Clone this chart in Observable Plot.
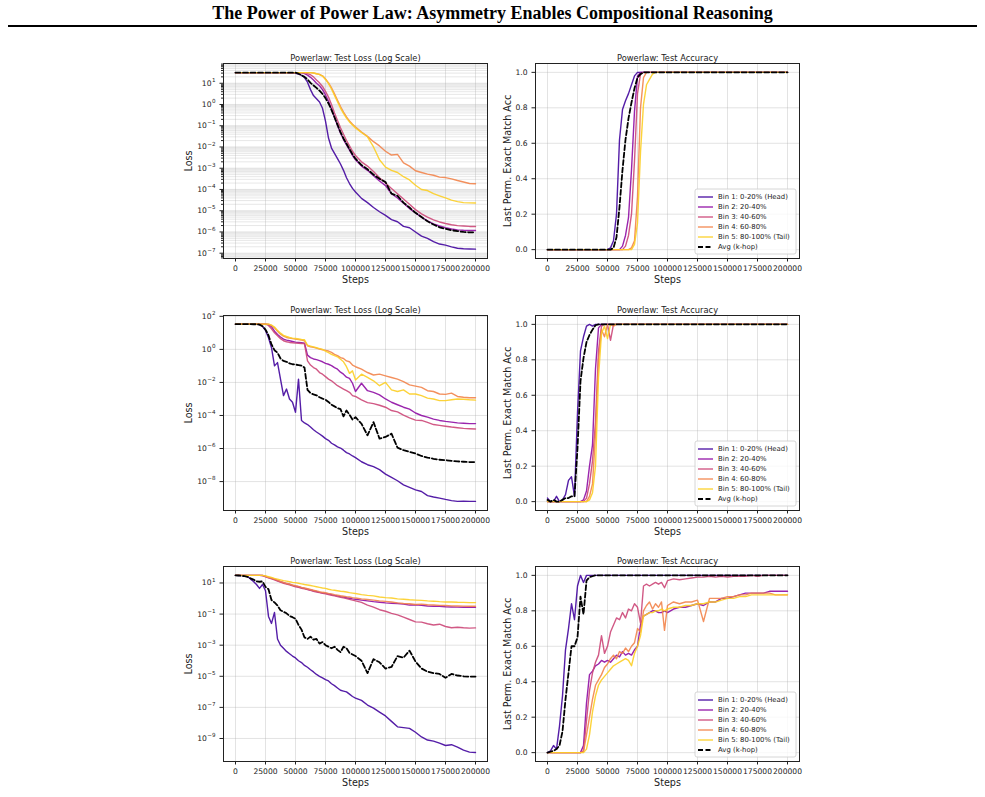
<!DOCTYPE html>
<html>
<head>
<meta charset="utf-8">
<script src="https://cdn.jsdelivr.net/npm/d3@7"></script>
<script src="https://cdn.jsdelivr.net/npm/@observablehq/plot@0.6"></script>
<style>
  body { margin: 0; background: #fff; }
  #page { position: relative; width: 985px; height: 797px; overflow: hidden; font-family: "DejaVu Sans", sans-serif; }
  #title { position: absolute; left: 0; top: 3px; width: 985px; text-align: center;
           font-family: "Liberation Serif", "Times New Roman", serif; font-weight: bold; font-size: 18px; color: #000; }
  #rule { position: absolute; left: 8px; top: 25px; width: 969px; height: 2px; background: #000; }
  .panel { position: absolute; }
</style>
</head>
<body>
<div id="page">
  <div id="title">The Power of Power Law: Asymmetry Enables Compositional Reasoning</div>
  <div id="rule"></div>
</div>
<script>
// Training steps at which each run was evaluated
const steps = [0,2500,5000,7500,10000,12500,15000,17500,20000,22500,
  25000,27500,30000,32500,35000,37500,40000,42500,45000,47500,
  50000,52500,55000,57500,60000,62500,65000,67500,70000,72500,
  75000,77500,80000,82500,85000,87500,90000,92500,95000,97500,
  100000,
  105000,110000,115000,120000,125000,130000,135000,140000,145000,150000,
  155000,160000,165000,170000,175000,180000,185000,190000,195000,200000];

const seriesNames = ["Bin 1: 0-20% (Head)", "Bin 2: 20-40%", "Bin 3: 40-60%", "Bin 4: 60-80%", "Bin 5: 80-100% (Tail)", "Avg (k-hop)"];
const seriesColors = ["#41049d", "#8f0da4", "#cc4778", "#f2844b", "#fcce25", "#000000"];

const stepTicks = [0, 25000, 50000, 75000, 100000, 125000, 150000, 175000, 200000];
const accTicks = [0, 0.2, 0.4, 0.6, 0.8, 1.0];
const lossTicks1 = [1e1, 1e0, 1e-1, 1e-2, 1e-3, 1e-4, 1e-5, 1e-6, 1e-7];
const lossTicks2 = [1e2, 1e0, 1e-2, 1e-4, 1e-6, 1e-8];
const lossTicks3 = [1e1, 1e-1, 1e-3, 1e-5, 1e-7, 1e-9];

// ---- Run 1: test loss, log10 ----
const loss1Bin1 = [1.5,1.5,1.5,1.5,1.5,1.5,1.5,1.5,1.5,1.5,
  1.5,1.5,1.5,1.5,1.5,1.5,1.5,1.5,1.49,1.49,
  1.47,1.43,1.38,1.27,1.05,0.7,0.42,0.27,0.12,-0.18,
  -0.78,-1.58,-2.05,-2.3,-2.55,-2.8,-3.1,-3.45,-3.72,-3.95,
  -4.12,
  -4.42,-4.62,-4.85,-5.05,-5.22,-5.42,-5.52,-5.74,-5.8,-6.0,
  -6.2,-6.3,-6.46,-6.57,-6.62,-6.7,-6.77,-6.79,-6.8,-6.81];
const loss1Bin2 = [1.5,1.5,1.5,1.5,1.5,1.5,1.5,1.5,1.5,1.5,
  1.5,1.5,1.5,1.5,1.5,1.5,1.5,1.5,1.5,1.5,
  1.5,1.5,1.49,1.45,1.38,1.28,1.15,1.0,0.88,0.7,
  0.45,0.15,-0.2,-0.6,-1.0,-1.35,-1.65,-1.9,-2.15,-2.4,
  -2.6,
  -2.9,-3.1,-3.35,-3.6,-3.82,-4.2,-4.4,-4.65,-4.9,-5.1,
  -5.3,-5.48,-5.62,-5.72,-5.8,-5.86,-5.9,-5.92,-5.93,-5.93];
const loss1Bin3 = [1.5,1.5,1.5,1.5,1.5,1.5,1.5,1.5,1.5,1.5,
  1.5,1.5,1.5,1.5,1.5,1.5,1.5,1.5,1.5,1.5,
  1.5,1.5,1.5,1.5,1.45,1.4,1.3,1.15,1.02,0.85,
  0.62,0.35,0.0,-0.4,-0.75,-1.1,-1.4,-1.7,-1.95,-2.2,
  -2.4,
  -2.7,-2.9,-3.15,-3.45,-3.7,-3.95,-4.2,-4.45,-4.7,-4.95,
  -5.15,-5.3,-5.43,-5.53,-5.6,-5.66,-5.7,-5.72,-5.74,-5.74];
const loss1Bin4 = [1.5,1.5,1.5,1.5,1.5,1.5,1.5,1.5,1.5,1.5,
  1.5,1.5,1.5,1.5,1.5,1.5,1.5,1.5,1.5,1.5,
  1.5,1.5,1.5,1.5,1.5,1.5,1.48,1.45,1.42,1.35,
  1.2,1.02,0.78,0.5,0.2,-0.1,-0.36,-0.58,-0.78,-0.93,
  -1.06,
  -1.3,-1.5,-1.75,-1.95,-2.2,-2.38,-2.35,-2.75,-2.9,-3.12,
  -3.2,-3.28,-3.33,-3.42,-3.44,-3.5,-3.58,-3.65,-3.72,-3.73];
const loss1Bin5 = [1.5,1.5,1.5,1.5,1.5,1.5,1.5,1.5,1.5,1.5,
  1.5,1.5,1.5,1.5,1.5,1.5,1.5,1.5,1.5,1.5,
  1.5,1.5,1.5,1.5,1.5,1.5,1.48,1.45,1.41,1.34,
  1.18,0.98,0.73,0.43,0.13,-0.17,-0.42,-0.64,-0.82,-0.97,
  -1.1,
  -1.32,-1.52,-2.0,-2.6,-2.95,-3.1,-3.2,-3.4,-3.55,-3.8,
  -4.0,-4.05,-4.2,-4.3,-4.4,-4.5,-4.57,-4.62,-4.63,-4.64];
const loss1Avg = [1.5,1.5,1.5,1.5,1.5,1.5,1.5,1.5,1.5,1.5,
  1.5,1.5,1.5,1.5,1.5,1.5,1.5,1.5,1.5,1.5,
  1.5,1.45,1.38,1.3,1.18,1.02,0.9,0.78,0.65,0.5,
  0.3,0.05,-0.25,-0.6,-0.95,-1.3,-1.6,-1.85,-2.1,-2.35,
  -2.55,
  -2.85,-3.05,-3.3,-3.5,-3.65,-4.2,-4.3,-4.62,-4.85,-5.1,
  -5.3,-5.5,-5.65,-5.78,-5.85,-5.92,-5.96,-6.0,-6.02,-6.02];

// ---- Run 1: test accuracy ----
const acc1Bin1 = [0,0,0,0,0,0,0,0,0,0,
  0,0,0,0,0,0,0,0,0,0,
  0,0.01,0.05,0.2,0.62,0.79,0.84,0.88,0.93,0.98,
  1,1,1,1,1,1,1,1,1,1,
  1,
  1,1,1,1,1,1,1,1,1,1,
  1,1,1,1,1,1,1,1,1,1];
const acc1Bin2 = [0,0,0,0,0,0,0,0,0,0,
  0,0,0,0,0,0,0,0,0,0,
  0,0,0,0,0,0.02,0.08,0.18,0.45,0.78,
  0.98,1,1,1,1,1,1,1,1,1,
  1,
  1,1,1,1,1,1,1,1,1,1,
  1,1,1,1,1,1,1,1,1,1];
const acc1Bin3 = [0,0,0,0,0,0,0,0,0,0,
  0,0,0,0,0,0,0,0,0,0,
  0,0,0,0,0,0,0.02,0.08,0.2,0.5,
  0.88,0.99,1,1,1,1,1,1,1,1,
  1,
  1,1,1,1,1,1,1,1,1,1,
  1,1,1,1,1,1,1,1,1,1];
const acc1Bin4 = [0,0,0,0,0,0,0,0,0,0,
  0,0,0,0,0,0,0,0,0,0,
  0,0,0,0,0,0,0,0,0.01,0.05,
  0.3,0.8,0.97,1,1,1,1,1,1,1,
  1,
  1,1,1,1,1,1,1,1,1,1,
  1,1,1,1,1,1,1,1,1,1];
const acc1Bin5 = [0,0,0,0,0,0,0,0,0,0,
  0,0,0,0,0,0,0,0,0,0,
  0,0,0,0,0,0,0,0,0,0.03,
  0.15,0.55,0.82,0.93,0.96,0.99,1,1,1,1,
  1,
  1,1,1,1,1,1,1,1,1,1,
  1,1,1,1,1,1,1,1,1,1];
const acc1Avg = [0,0,0,0,0,0,0,0,0,0,
  0,0,0,0,0,0,0,0,0,0,
  0,0,0.01,0.07,0.24,0.45,0.62,0.74,0.83,0.91,
  0.97,0.99,1,1,1,1,1,1,1,1,
  1,
  1,1,1,1,1,1,1,1,1,1,
  1,1,1,1,1,1,1,1,1,1];

// ---- Run 2: test loss, log10 ----
const loss2Bin1 = [1.53,1.53,1.53,1.53,1.53,1.53,1.52,1.52,1.5,1.4,
  1.15,0.7,0.1,-1.0,-0.8,-1.8,-2.8,-2.4,-3.0,-3.2,
  -3.8,-1.8,-4.3,-4.45,-4.55,-4.7,-4.86,-5.0,-5.12,-5.25,
  -5.4,-5.5,-5.68,-5.78,-5.9,-5.97,-6.1,-6.25,-6.33,-6.45,
  -6.55,
  -6.8,-6.98,-7.1,-7.28,-7.55,-7.75,-7.95,-8.2,-8.35,-8.5,
  -8.6,-8.85,-8.93,-9.0,-9.08,-9.15,-9.2,-9.18,-9.2,-9.2];
const loss2Bin2 = [1.53,1.53,1.53,1.53,1.53,1.53,1.53,1.53,1.53,1.53,
  1.53,1.5,1.38,1.1,0.9,0.75,0.62,0.56,0.52,0.48,
  0.44,0.42,0.4,0.38,-0.35,-0.5,-0.58,-0.62,-0.68,-0.75,
  -0.85,-0.9,-0.98,-1.1,-1.2,-1.38,-1.5,-1.68,-1.75,-2.05,
  -2.55,
  -2.05,-2.5,-2.6,-2.75,-3.0,-3.2,-3.35,-3.5,-3.62,-3.85,
  -4.0,-4.1,-4.22,-4.3,-4.36,-4.4,-4.45,-4.47,-4.49,-4.49];
const loss2Bin3 = [1.53,1.53,1.53,1.53,1.53,1.53,1.53,1.53,1.53,1.53,
  1.53,1.45,1.25,1.0,0.82,0.65,0.52,0.46,0.42,0.4,
  0.38,0.37,0.36,0.34,-0.7,-0.95,-1.1,-1.2,-1.4,-1.5,
  -1.65,-1.8,-1.9,-2.05,-2.2,-2.3,-2.4,-2.5,-2.6,-2.8,
  -2.85,
  -3.05,-3.22,-3.28,-3.38,-3.5,-3.7,-3.78,-3.98,-4.15,-4.28,
  -4.3,-4.42,-4.55,-4.6,-4.65,-4.7,-4.74,-4.78,-4.8,-4.82];
const loss2Bin4 = [1.53,1.53,1.53,1.53,1.53,1.53,1.53,1.53,1.53,1.53,
  1.53,1.53,1.45,1.3,1.1,0.92,0.8,0.72,0.68,0.65,
  0.62,0.6,0.56,0.52,0.22,0.15,0.12,0.08,0.02,-0.02,
  -0.06,-0.1,-0.18,-0.3,-0.38,-0.5,-0.55,-0.7,-0.75,-0.95,
  -1.05,
  -1.2,-1.4,-1.55,-1.5,-1.6,-1.7,-1.8,-1.95,-2.15,-2.22,
  -2.3,-2.5,-2.55,-2.7,-2.72,-2.65,-2.85,-2.9,-2.93,-2.93];
const loss2Bin5 = [1.53,1.53,1.53,1.53,1.53,1.53,1.53,1.53,1.53,1.53,
  1.53,1.53,1.47,1.35,1.15,0.98,0.85,0.78,0.72,0.68,
  0.66,0.63,0.6,0.58,0.25,0.2,0.15,0.1,0.05,0.0,
  -0.1,-0.2,-0.3,-0.38,-0.45,-0.6,-0.75,-1.05,-1.45,-1.3,
  -1.85,
  -1.5,-1.7,-1.9,-2.2,-2.0,-2.45,-2.55,-2.45,-2.7,-2.7,
  -2.8,-2.95,-3.0,-3.1,-3.1,-3.05,-3.0,-3.02,-3.05,-3.07];
const loss2Avg = [1.53,1.53,1.53,1.53,1.53,1.53,1.52,1.52,1.5,1.4,
  1.2,0.85,0.3,-0.05,-0.2,-0.55,-0.7,-0.75,-0.85,-0.9,
  -0.92,-0.95,-0.98,-1.1,-2.45,-2.65,-2.72,-2.78,-2.9,-2.98,
  -3.05,-3.18,-3.35,-3.45,-3.55,-3.62,-4.05,-3.7,-3.95,-4.25,
  -4.1,
  -4.5,-5.2,-4.4,-5.4,-5.3,-5.1,-5.95,-6.1,-6.2,-6.3,
  -6.45,-6.55,-6.62,-6.68,-6.7,-6.75,-6.78,-6.8,-6.82,-6.82];

// ---- Run 2: test accuracy ----
const acc2Bin1 = [0.02,0,0,0.03,0,0.01,0.04,0.12,0.14,0.03,
  0.5,0.85,0.93,0.99,1,0.99,1,1,1,1,
  1,1,1,1,1,1,1,1,1,1,
  1,1,1,1,1,1,1,1,1,1,
  1,
  1,1,1,1,1,1,1,1,1,1,
  1,1,1,1,1,1,1,1,1,1];
const acc2Bin2 = [0,0,0,0,0,0,0,0,0,0,
  0,0,0.01,0.06,0.2,0.32,0.75,0.98,1,1,
  1,1,1,1,1,1,1,1,1,1,
  1,1,1,1,1,1,1,1,1,1,
  1,
  1,1,1,1,1,1,1,1,1,1,
  1,1,1,1,1,1,1,1,1,1];
const acc2Bin3 = [0,0,0,0,0,0,0,0,0,0,
  0,0,0,0.02,0.1,0.23,0.45,0.85,0.99,1,
  1,0.91,1,1,1,1,1,1,1,1,
  1,1,1,1,1,1,1,1,1,1,
  1,
  1,1,1,1,1,1,1,1,1,1,
  1,1,1,1,1,1,1,1,1,1];
const acc2Bin4 = [0,0,0,0,0,0,0,0,0,0,
  0,0,0,0,0.03,0.1,0.38,0.8,0.97,0.93,
  1,1,0.99,1,1,1,1,1,1,1,
  1,1,1,1,1,1,1,1,1,1,
  1,
  1,1,1,1,1,1,1,1,1,1,
  1,1,1,1,1,1,1,1,1,1];
const acc2Bin5 = [0,0,0,0,0,0,0,0,0,0,
  0,0,0,0,0.01,0.05,0.2,0.7,0.95,0.99,
  0.92,1,1,1,1,1,1,1,1,1,
  1,1,1,1,1,1,1,1,1,1,
  1,
  1,1,1,1,1,1,1,1,1,1,
  1,1,1,1,1,1,1,1,1,1];
const acc2Avg = [0.01,0,0.01,0,0,0.01,0.02,0.02,0.03,0.03,
  0.3,0.68,0.81,0.9,0.94,0.97,0.995,1,1,1,
  1,1,1,1,1,1,1,1,1,1,
  1,1,1,1,1,1,1,1,1,1,
  1,
  1,1,1,1,1,1,1,1,1,1,
  1,1,1,1,1,1,1,1,1,1];

// ---- Run 3: test loss, log10 ----
const loss3Bin1 = [1.49,1.48,1.47,1.45,1.42,1.25,1.1,0.9,0.65,0.9,
  0.5,-1.15,-1.6,-0.9,-2.6,-3.0,-3.2,-3.4,-3.55,-3.7,
  -3.82,-4.0,-4.12,-4.3,-4.42,-4.58,-4.72,-4.88,-5.0,-5.1,
  -5.22,-5.3,-5.48,-5.6,-5.75,-5.9,-5.95,-6.0,-6.15,-6.3,
  -6.4,
  -6.55,-6.85,-7.05,-7.3,-7.55,-7.9,-8.25,-8.3,-8.35,-8.6,
  -8.9,-9.1,-9.17,-9.3,-9.45,-9.4,-9.55,-9.75,-9.88,-9.9];
const loss3Bin2 = [1.49,1.49,1.49,1.49,1.49,1.49,1.49,1.49,1.49,1.48,
  1.42,1.35,1.3,1.24,1.15,1.08,1.02,0.96,0.92,0.85,
  0.8,0.76,0.7,0.65,0.6,0.55,0.5,0.46,0.4,0.36,
  0.33,0.3,0.25,0.2,0.17,0.12,0.1,0.05,0.02,-0.02,
  -0.05,
  -0.1,-0.15,-0.2,-0.24,-0.28,-0.3,-0.32,-0.35,-0.42,-0.4,
  -0.44,-0.48,-0.5,-0.5,-0.53,-0.54,-0.55,-0.56,-0.56,-0.56];
const loss3Bin3 = [1.49,1.49,1.49,1.49,1.49,1.49,1.49,1.49,1.49,1.47,
  1.4,1.33,1.27,1.2,1.12,1.05,0.98,0.93,0.88,0.82,
  0.76,0.72,0.66,0.62,0.57,0.52,0.47,0.42,0.38,0.33,
  0.3,0.25,0.2,0.17,0.12,0.08,0.04,0.0,-0.05,-0.1,
  -0.15,
  -0.25,-0.42,-0.55,-0.72,-0.82,-0.95,-1.05,-1.2,-1.35,-1.5,
  -1.52,-1.62,-1.7,-1.65,-1.8,-1.88,-1.85,-1.88,-1.9,-1.89];
const loss3Bin4 = [1.49,1.49,1.49,1.49,1.49,1.49,1.49,1.49,1.49,1.49,
  1.44,1.37,1.32,1.25,1.18,1.1,1.04,0.98,0.93,0.87,
  0.82,0.78,0.72,0.68,0.63,0.58,0.53,0.49,0.44,0.4,
  0.37,0.33,0.3,0.25,0.22,0.18,0.15,0.12,0.1,0.06,
  0.03,
  -0.02,-0.06,-0.1,-0.15,-0.18,-0.22,-0.28,-0.32,-0.34,-0.38,
  -0.36,-0.4,-0.42,-0.44,-0.45,-0.47,-0.48,-0.49,-0.5,-0.5];
const loss3Bin5 = [1.49,1.49,1.49,1.49,1.49,1.49,1.49,1.49,1.49,1.49,
  1.46,1.4,1.36,1.3,1.25,1.2,1.15,1.12,1.08,1.04,
  1.02,0.98,0.94,0.9,0.87,0.84,0.8,0.76,0.72,0.68,
  0.65,0.6,0.56,0.53,0.5,0.47,0.45,0.42,0.38,0.35,
  0.32,
  0.25,0.2,0.17,0.1,0.06,0.03,-0.02,-0.05,-0.08,-0.1,
  -0.12,-0.15,-0.17,-0.2,-0.22,-0.22,-0.24,-0.25,-0.26,-0.26];
const loss3Avg = [1.49,1.48,1.46,1.44,1.4,1.3,1.22,1.1,1.08,1.1,
  0.75,0.6,-0.1,-0.25,-0.45,-0.75,-0.85,-0.95,-1.12,-1.2,
  -1.3,-1.7,-2.0,-2.5,-2.6,-2.45,-2.65,-2.6,-2.9,-2.8,
  -3.0,-3.1,-3.2,-3.1,-3.3,-3.45,-3.1,-3.2,-3.5,-3.6,
  -3.7,
  -4.0,-4.8,-3.9,-4.1,-4.5,-4.4,-3.7,-3.8,-3.35,-4.05,
  -4.5,-4.7,-4.8,-4.85,-5.1,-4.85,-4.95,-5.0,-5.02,-5.02];

// ---- Run 3: test accuracy ----
const acc3Bin1 = [0,0.01,0.04,0.02,0.15,0.32,0.58,0.7,0.84,0.75,
  0.94,1,0.96,1,1,1,1,1,1,1,
  1,1,1,1,1,1,1,1,1,1,
  1,1,1,1,1,1,1,1,1,1,
  1,
  1,1,1,1,1,1,1,1,1,1,
  1,1,1,1,1,1,1,1,1,1];
const acc3Bin2 = [0,0,0,0,0,0,0,0,0,0,
  0,0,0.04,0.28,0.44,0.46,0.49,0.5,0.52,0.51,
  0.52,0.51,0.53,0.55,0.54,0.57,0.55,0.56,0.55,0.58,
  0.6,0.72,0.77,0.78,0.79,0.8,0.8,0.79,0.79,0.8,
  0.79,
  0.81,0.82,0.82,0.83,0.84,0.83,0.85,0.85,0.87,0.87,
  0.88,0.89,0.9,0.9,0.9,0.9,0.91,0.91,0.91,0.91];
const acc3Bin3 = [0,0,0,0,0,0,0,0,0,0,
  0,0,0.01,0.18,0.35,0.45,0.51,0.55,0.66,0.56,
  0.6,0.68,0.72,0.76,0.75,0.79,0.76,0.81,0.8,0.84,
  0.82,0.73,0.94,0.95,0.94,0.95,0.96,0.95,0.96,0.93,
  0.97,
  0.98,0.975,0.98,0.985,0.99,0.99,0.995,0.99,0.995,0.99,
  0.995,0.995,0.995,1,0.995,1,1,1,1,1];
const acc3Bin4 = [0,0,0,0,0,0,0,0,0,0,
  0,0,0.005,0.1,0.2,0.3,0.38,0.41,0.44,0.48,
  0.5,0.53,0.55,0.53,0.57,0.56,0.59,0.57,0.6,0.62,
  0.7,0.68,0.8,0.83,0.85,0.81,0.84,0.82,0.85,0.69,
  0.83,
  0.85,0.84,0.85,0.85,0.86,0.74,0.87,0.87,0.87,0.88,
  0.88,0.89,0.89,0.9,0.9,0.9,0.9,0.89,0.89,0.89];
const acc3Bin5 = [0,0,0,0,0,0,0,0,0,0,
  0,0,0,0.02,0.1,0.23,0.32,0.38,0.41,0.43,
  0.45,0.47,0.49,0.5,0.51,0.52,0.53,0.52,0.49,0.56,
  0.6,0.66,0.77,0.78,0.79,0.79,0.8,0.8,0.81,0.8,
  0.81,
  0.82,0.82,0.83,0.83,0.84,0.84,0.85,0.85,0.86,0.87,
  0.87,0.88,0.88,0.89,0.89,0.89,0.89,0.89,0.89,0.89];
const acc3Avg = [0,0.005,0.01,0.02,0.04,0.12,0.3,0.45,0.6,0.6,
  0.65,0.88,0.78,0.97,0.99,0.995,1,1,1,1,
  1,1,1,1,1,1,1,1,1,1,
  1,1,1,1,1,1,1,1,1,1,
  1,
  1,1,1,1,1,1,1,1,1,1,
  1,1,1,1,1,1,1,1,1,1];

// ---- layout ----
const FRAME_W = 264, FRAME_H = 195;
const M = {top: 20, right: 16, bottom: 36, left: 50};
const FONT = "'DejaVu Sans', sans-serif";
const TICK_FONT = 7.6, EXP_FONT = 5.6;
const LINE_W = 1.4, AVG_W = 1.8, DASH = "5,2.5";
const page = document.getElementById("page");

// text width helper used to right-align "10" + raised exponent labels
const measureCtx = document.createElement("canvas").getContext("2d");
function textWidth(s, size) {
  measureCtx.font = `${size}px "DejaVu Sans"`;
  return measureCtx.measureText(s).width;
}
const exponentOf = d => String(Math.round(Math.log10(d))).replace("-", "\u2212");

// minor log ticks (2..9 × 10^k) inside a log10 domain
function minorLogTicks([lo, hi]) {
  const out = [];
  for (let k = Math.floor(lo); k <= Math.ceil(hi); k++) {
    for (let m = 2; m <= 9; m++) {
      const v = m * Math.pow(10, k);
      const l = Math.log10(v);
      if (l > lo && l < hi) out.push(v);
    }
  }
  return out;
}

function drawPanel(p) {
  const isLoss = p.kind === "loss";
  const yTicks = isLoss ? p.ticks : accTicks;
  const grid = {stroke: "#b0b0b0", strokeOpacity: 0.35, strokeWidth: 1};
  const marks = [Plot.ruleX(stepTicks, grid)];
  let minor = null;
  if (p.minor) {
    minor = minorLogTicks(p.logDomain);
    marks.push(Plot.ruleY(minor, {stroke: "#b0b0b0", strokeOpacity: 0.3, strokeWidth: 1}));
  }
  marks.push(Plot.ruleY(yTicks, grid));

  p.series.forEach((vals, i) => {
    const rows = steps.map((s, j) => ({step: s, value: isLoss ? Math.pow(10, vals[j]) : vals[j]}));
    const avg = i === 5;
    marks.push(Plot.line(rows, {
      x: "step", y: "value",
      stroke: seriesColors[i],
      strokeWidth: avg ? AVG_W : LINE_W,
      strokeOpacity: avg ? 1 : 0.9,
      strokeDasharray: avg ? DASH : undefined
    }));
  });

  marks.push(Plot.frame({stroke: "#222", strokeWidth: 1}));
  marks.push(Plot.axisX(stepTicks, {tickSize: 3.5, tickPadding: 4, tickFormat: d => String(d), fontSize: TICK_FONT, label: null}));
  if (isLoss) {
    marks.push(Plot.axisY(yTicks, {tickSize: 3.5, tickFormat: () => "", label: null}));
    if (minor) marks.push(Plot.axisY(minor, {tickSize: 2, tickFormat: () => "", label: null}));
    // power-of-ten labels: "10" followed by a smaller raised exponent, right-aligned
    const right = -8;
    for (const t of yTicks) {
      const e = exponentOf(t);
      const ew = textWidth(e, EXP_FONT);
      marks.push(Plot.text([t], {y: d => d, text: () => e, frameAnchor: "left", textAnchor: "end",
        dx: right, dy: -3.2, fontSize: EXP_FONT}));
      marks.push(Plot.text([t], {y: d => d, text: () => "10", frameAnchor: "left", textAnchor: "end",
        dx: right - ew - 0.4, fontSize: TICK_FONT}));
    }
  } else {
    marks.push(Plot.axisY(yTicks, {tickSize: 3.5, tickPadding: 4.5, tickFormat: d => d.toFixed(1), fontSize: TICK_FONT, label: null}));
  }

  marks.push(Plot.text([p.title], {text: d => d, frameAnchor: "top", dy: -8, fontSize: 8.3}));
  marks.push(Plot.text(["Steps"], {text: d => d, frameAnchor: "bottom", dy: 24, fontSize: 9.6}));
  marks.push(Plot.text([p.ylabel], {text: d => d, frameAnchor: "left", textAnchor: "middle",
    dx: p.ylabelDx, rotate: -90, fontSize: 9.6}));

  const svg = Plot.plot({
    width: M.left + FRAME_W + M.right,
    height: M.top + FRAME_H + M.bottom,
    marginTop: M.top, marginRight: M.right, marginBottom: M.bottom, marginLeft: M.left,
    x: {domain: [-10000, 210000], axis: null},
    y: isLoss
      ? {type: "log", domain: [Math.pow(10, p.logDomain[0]), Math.pow(10, p.logDomain[1])], axis: null}
      : {domain: [-0.05, 1.05], axis: null},
    style: {fontFamily: FONT, fontSize: "7.6px", color: "#222", background: "none", overflow: "visible"},
    marks
  });
  const wrap = document.createElement("div");
  wrap.className = "panel";
  wrap.style.left = (p.left - M.left) + "px";
  wrap.style.top = (p.top - M.top) + "px";
  wrap.appendChild(svg);
  page.appendChild(wrap);

  if (!isLoss) drawLegend(p.left, p.top);
}

function drawLegend(frameLeft, frameTop) {
  const w = 101, h = 65;
  const x0 = frameLeft + FRAME_W - 3 - w, y0 = frameTop + FRAME_H - 4 - h;
  const svg = d3.create("svg")
    .attr("width", w + 2).attr("height", h + 2)
    .style("position", "absolute")
    .style("left", (x0 - 1) + "px").style("top", (y0 - 1) + "px");
  svg.append("rect").attr("x", 1).attr("y", 1).attr("width", w).attr("height", h).attr("rx", 2)
    .attr("fill", "#fff").attr("fill-opacity", 0.8).attr("stroke", "#cccccc").attr("stroke-width", 0.8);
  seriesNames.forEach((name, i) => {
    const y = 1 + 8 + i * 10;
    const avg = i === 5;
    svg.append("line").attr("x1", 4).attr("x2", 19).attr("y1", y).attr("y2", y)
      .attr("stroke", seriesColors[i]).attr("stroke-width", avg ? AVG_W : LINE_W)
      .attr("stroke-opacity", avg ? 1 : 0.9)
      .attr("stroke-dasharray", avg ? DASH : null);
    svg.append("text").attr("x", 24).attr("y", y).attr("dy", "0.35em")
      .attr("font-family", FONT).attr("font-size", 6.9).attr("fill", "#222").text(name);
  });
  page.appendChild(svg.node());
}

const lossTitle = "Powerlaw: Test Loss (Log Scale)";
const accTitle = "Powerlaw: Test Accuracy";
const accLabel = "Last Perm. Exact Match Acc";

const panels = [
  {kind: "loss", left: 223, top: 63, title: lossTitle, ylabel: "Loss", ylabelDx: -35,
   ticks: lossTicks1, logDomain: [-7.25, 1.93], minor: true,
   series: [loss1Bin1, loss1Bin2, loss1Bin3, loss1Bin4, loss1Bin5, loss1Avg]},
  {kind: "acc", left: 535, top: 63, title: accTitle, ylabel: accLabel, ylabelDx: -28,
   series: [acc1Bin1, acc1Bin2, acc1Bin3, acc1Bin4, acc1Bin5, acc1Avg]},
  {kind: "loss", left: 223, top: 315, title: lossTitle, ylabel: "Loss", ylabelDx: -35,
   ticks: lossTicks2, logDomain: [-9.75, 2.05],
   series: [loss2Bin1, loss2Bin2, loss2Bin3, loss2Bin4, loss2Bin5, loss2Avg]},
  {kind: "acc", left: 535, top: 315, title: accTitle, ylabel: accLabel, ylabelDx: -28,
   series: [acc2Bin1, acc2Bin2, acc2Bin3, acc2Bin4, acc2Bin5, acc2Avg]},
  {kind: "loss", left: 223, top: 566, title: lossTitle, ylabel: "Loss", ylabelDx: -35,
   ticks: lossTicks3, logDomain: [-10.48, 2.06],
   series: [loss3Bin1, loss3Bin2, loss3Bin3, loss3Bin4, loss3Bin5, loss3Avg]},
  {kind: "acc", left: 535, top: 566, title: accTitle, ylabel: accLabel, ylabelDx: -28,
   series: [acc3Bin1, acc3Bin2, acc3Bin3, acc3Bin4, acc3Bin5, acc3Avg]}
];

panels.forEach(drawPanel);
</script>
</body>
</html>
